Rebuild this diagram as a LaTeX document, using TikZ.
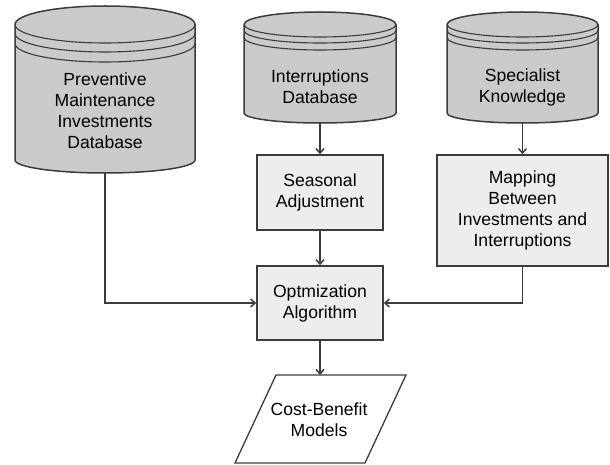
\documentclass[tikz,border=0pt]{standalone}
\usepackage{fontspec}
\setmainfont{Liberation Sans}
\usetikzlibrary{arrows.meta}
\definecolor{cylgray}{HTML}{CBCBCB}
\definecolor{boxgray}{HTML}{EDEDED}
\definecolor{edge}{HTML}{3C3C3C}
\newcommand\dbcyl[8]{%
  \draw[cylbody] ({#1-#2},#3) -- ({#1-#2},#5)
    arc[start angle=180,end angle=360,x radius=#2pt,y radius=#6pt]
    -- ({#1+#2},#3)
    arc[start angle=0,end angle=180,x radius=#2pt,y radius=#4pt] -- cycle;
  \draw[cylline] ({#1-#2},#3) arc[start angle=180,end angle=360,x radius=#2pt,y radius=#4pt];
  \draw[cylline] ({#1-#2},{#3+#7}) arc[start angle=180,end angle=360,x radius=#2pt,y radius=#4pt];
  \draw[cylline] ({#1-#2},{#3+#8}) arc[start angle=180,end angle=360,x radius=#2pt,y radius=#4pt];
}
\tikzset{
  cylbody/.style={draw=edge,line width=1.5pt,fill=cylgray,line join=round},
  cylline/.style={draw=edge,line width=1.1pt},
  txt/.style={font=\fontsize{17.6}{21}\selectfont,align=center,inner sep=0pt},
  procbox/.style={draw=edge,line width=1.6pt,fill=boxgray,font=\fontsize{17.6}{21}\selectfont,align=center,inner sep=0pt},
  conn/.style={draw=edge,line width=1.5pt,-{Straight Barb[length=4.5pt,width=8pt,line width=1.5pt]}},
}
\begin{document}
\begin{tikzpicture}[x=1pt,y=-1pt]
\useasboundingbox (0,0) rectangle (610,465);
% cylinders
\dbcyl{105}{90}{24.5}{18.5}{160}{13}{9}{19}
\dbcyl{320}{76}{24.5}{12.5}{113}{10}{6}{13}
\dbcyl{522.5}{75.5}{24.5}{12.5}{113}{10}{6}{13}
\node[txt] (pm) at (105,111) {Preventive\\Maintenance\\Investments\\Database};
\node[txt] (idb) at (320,87) {Interruptions\\Database};
\node[txt] (sk) at (522.5,87) {Specialist\\Knowledge};
\coordinate (pmb) at (105,173);
\coordinate (idbb) at (320,123);
\coordinate (skb) at (522.5,123);
% boxes
\node[procbox,minimum width=126pt,minimum height=75pt] (sa) at (320,192.5) {Seasonal\\Adjustment};
\node[procbox,minimum width=171pt,minimum height=111pt] (map) at (522.5,210.5) {Mapping\\Between\\Investments and\\Interruptions};
\node[procbox,minimum width=126pt,minimum height=74pt] (opt) at (320,303) {Optmization\\Algorithm};
% parallelogram
\draw[draw=edge,line width=1.3pt,fill=white] (276,375) -- (406,375) -- (365,463) -- (235,463) -- cycle;
\node[txt] (cb) at (319,420) {Cost-Benefit\\Models};
\coordinate (cbt) at (320,375);
% connectors
\draw[conn] (idbb) -- (sa);
\draw[conn] (skb) -- (map);
\draw[conn] (sa) -- (opt);
\draw[conn] (pmb) |- (opt);
\draw[conn] (map.south) |- (opt);
\draw[conn] (opt) -- (cbt);
\end{tikzpicture}
\end{document}
